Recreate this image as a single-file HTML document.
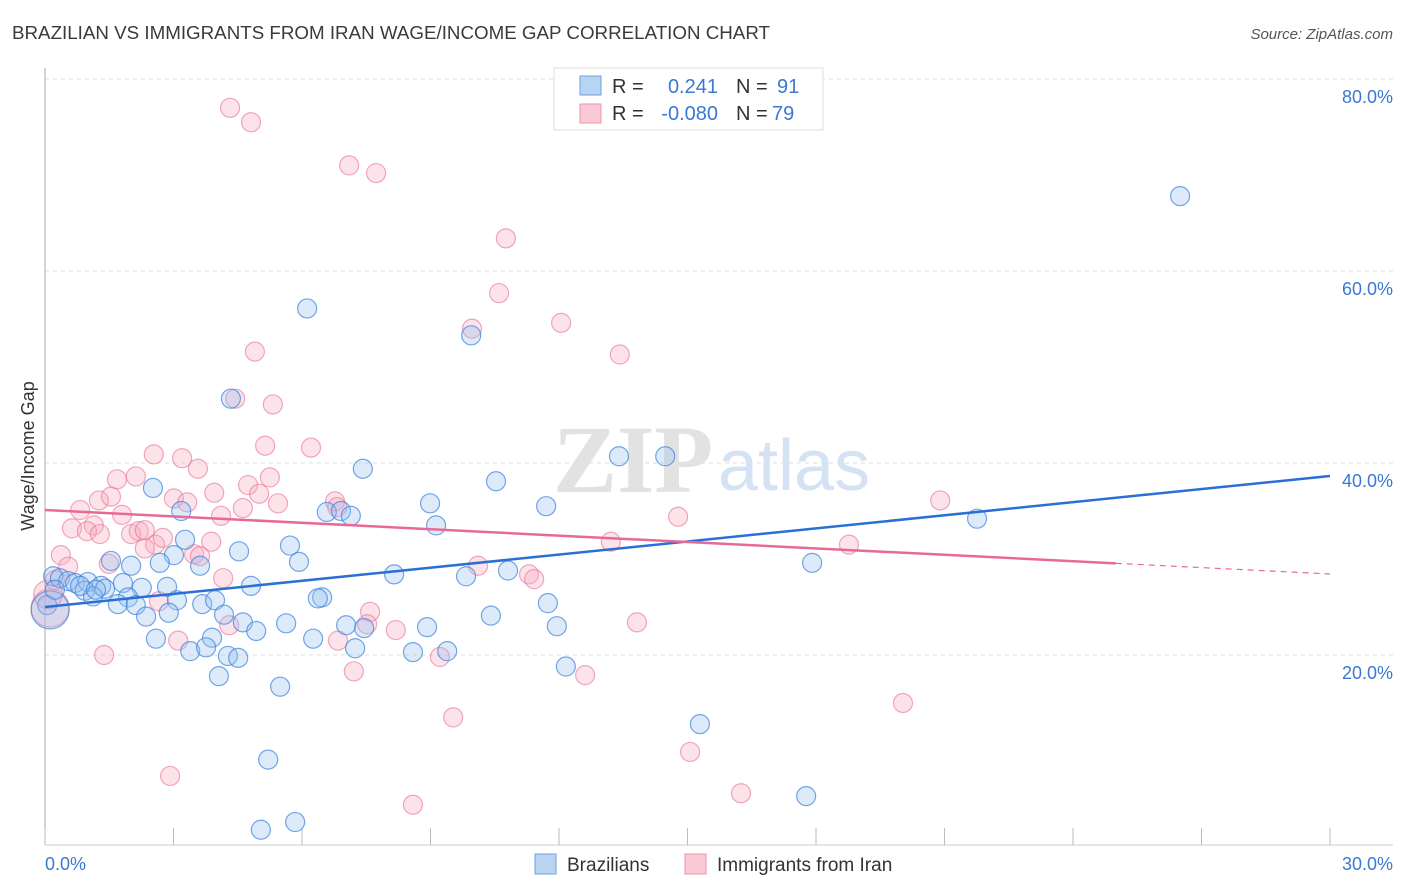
<!DOCTYPE html>
<html><head><meta charset="utf-8"><style>
body{margin:0;background:#fff;font-family:"Liberation Sans",sans-serif}
</style></head><body>
<svg width="1406" height="892" xmlns="http://www.w3.org/2000/svg" style="display:block">
<text x="12" y="39" font-size="18" textLength="758" lengthAdjust="spacingAndGlyphs" fill="#3a3a3a">BRAZILIAN VS IMMIGRANTS FROM IRAN WAGE/INCOME GAP CORRELATION CHART</text>
<text x="1393" y="39" font-size="15" fill="#555" font-style="italic" text-anchor="end">Source: ZipAtlas.com</text>
<g id="grid"></g>
<g>
<text x="553" y="492" font-size="96" font-family="Liberation Serif,serif" fill="#e2e2e2" font-weight="bold">ZIP</text>
<text x="718" y="490" font-size="72" fill="#d4e2f4">atlas</text>
</g>
<g id="marks"></g>
<text x="34" y="456" font-size="18" fill="#333" transform="rotate(-90 34 456)" text-anchor="middle">Wage/Income Gap</text>
<g>
<rect x="554" y="68" width="269" height="62" fill="#fff" stroke="#ddd"/>
<rect x="580" y="76" width="21" height="19" fill="#b9d3f3" stroke="#6fa0e0"/>
<rect x="580" y="104" width="21" height="19" fill="#f9c9d6" stroke="#ee92ae"/>
<text x="612" y="93" font-size="20" fill="#333">R = </text><text x="718" y="93" font-size="20" fill="#3a78d4" text-anchor="end">0.241</text>
<text x="736" y="93" font-size="20" fill="#333">N = </text><text x="777" y="93" font-size="20" fill="#3a78d4">91</text>
<text x="612" y="120" font-size="20" fill="#333">R = </text><text x="718" y="120" font-size="20" fill="#3a78d4" text-anchor="end">-0.080</text>
<text x="736" y="120" font-size="20" fill="#333">N = </text><text x="772" y="120" font-size="20" fill="#3a78d4">79</text>
</g>
<g>
<rect x="535" y="854" width="21" height="20" fill="#b9d3f3" stroke="#6fa0e0"/>
<text x="567" y="871" font-size="19" fill="#333">Brazilians</text>
<rect x="685" y="854" width="21" height="20" fill="#f9c9d6" stroke="#ee92ae"/>
<text x="717" y="871" font-size="19" fill="#333">Immigrants from Iran</text>
</g>
</svg>
<script>
const blueX=[26.50,6.12,9.95,4.34,7.42,13.40,14.48,10.53,8.99,11.70,2.52,3.18,6.58,6.91,7.14,9.13,21.76,5.72,4.53,3.27,3.01,2.68,1.54,2.01,3.62,5.93,17.91,8.15,9.83,10.81,0.19,0.35,0.54,0.70,1.00,1.31,1.82,2.26,2.85,4.81,1.40,0.93,1.12,1.94,1.70,2.12,3.08,3.67,3.97,6.47,6.37,11.74,0.05,2.36,2.89,4.18,4.62,4.93,5.63,7.03,7.45,8.92,10.41,11.95,2.59,3.90,6.26,3.39,3.76,7.24,8.59,9.39,4.27,4.51,4.06,12.16,5.49,15.29,5.21,17.77,5.04,5.84,0.12,0.23,0.82,1.19];
const blueY=[67.8,56.1,53.3,46.7,39.4,40.7,40.7,38.1,35.8,35.5,37.4,35.0,34.9,35.0,34.5,33.5,34.2,31.4,30.8,32.0,30.4,29.6,29.8,29.3,29.3,29.7,29.6,28.4,28.2,28.8,28.2,28.0,27.7,27.5,27.6,27.2,27.5,27.0,27.1,27.2,26.9,26.7,26.1,26.0,25.3,25.2,25.7,25.3,25.7,26.0,25.9,25.4,25.2,24.0,24.4,24.2,23.4,22.5,23.3,23.1,22.8,22.9,24.1,23.0,21.7,21.8,21.7,20.4,20.8,20.7,20.3,20.4,19.9,19.7,17.8,18.8,16.7,12.8,9.1,5.3,1.8,2.6,24.7,26.8,27.2,26.8];
const blueW=blueX.map((v,i)=>i===82?2:1);
const pinkX=[4.32,4.81,7.10,7.73,10.76,10.60,9.97,12.05,13.42,4.90,5.32,4.44,6.21,5.14,2.54,2.12,3.20,3.57,1.68,5.25,4.74,1.26,1.54,3.01,3.32,3.95,5.00,4.62,5.44,6.77,0.82,1.80,1.14,0.63,0.98,1.28,2.01,2.19,2.57,2.75,3.88,0.37,0.54,1.49,2.33,3.48,3.62,2.33,4.11,14.78,20.90,18.77,13.21,6.82,10.11,11.30,11.42,4.16,2.66,3.11,4.30,7.59,7.52,8.19,6.84,7.21,9.22,12.61,13.82,1.38,9.53,20.03,15.06,2.92,8.59,16.25,0.12,0.07,0.23];
const pinkY=[77.0,75.5,71.0,70.2,63.4,57.7,54.0,54.6,51.3,51.6,46.1,46.7,41.6,41.8,40.9,38.6,40.5,39.4,38.3,38.5,37.7,36.1,36.5,36.3,35.9,36.9,36.8,35.3,35.8,36.0,35.1,34.6,33.5,33.2,32.9,32.6,32.6,32.9,31.5,32.2,31.8,30.4,29.2,29.5,31.1,30.5,30.3,33.0,34.5,34.4,36.1,31.5,31.8,35.4,29.3,28.4,27.9,28.0,25.6,21.5,23.1,24.5,23.2,22.6,21.5,18.3,19.8,17.9,23.4,20.0,13.5,15.0,9.9,7.4,4.4,5.6,24.9,26.3,27.8];
const pinkW=pinkX.map((v,i)=>i===76?2:(i===77?1.5:1));
const blueFit=[25.0,38.65];
const pinkFit=[35.1,28.44];
const pinkFitEnd=25.0;
const yTicks=[20,40,60,80];
const xTickLabels=["0.0%","30.0%"];

const X0=45,X1=1330,Y0=847,PY=9.6;
const sx=v=>X0+(X1-X0)*v/30, sy=v=>Y0-v*PY;
const NS="http://www.w3.org/2000/svg";
function mk(tag,attrs,parent){const e=document.createElementNS(NS,tag);for(const k in attrs)e.setAttribute(k,attrs[k]);parent.appendChild(e);return e;}
const grid=document.getElementById('grid'), marks=document.getElementById('marks');
yTicks.forEach(t=>{
  const l=mk('line',{x1:X0,x2:1393,y1:sy(t),y2:sy(t),stroke:'#ddd','stroke-dasharray':'4,4'},grid);
  
  
  const tx=mk('text',{x:1393,y:sy(t)+24,'font-size':18,fill:'#3a78d4','text-anchor':'end'},grid);
  tx.textContent=t.toFixed(1)+'%';
  
  
});
const ax=mk('line',{x1:X0,x2:X0,y1:68,y2:845,stroke:'#aaa'},grid);


const bx=mk('line',{x1:X0,x2:1393,y1:845,y2:845,stroke:'#ccc'},grid);


for(let i=0;i<=10;i++){const t=mk('line',{x1:sx(i*3),x2:sx(i*3),y1:828,y2:845,stroke:'#bbb'},grid);
  
  }
const xl0=mk('text',{x:45,y:870,'font-size':18,fill:'#3a78d4'},grid);xl0.textContent=xTickLabels[0];


const xl1=mk('text',{x:1393,y:870,'font-size':18,fill:'#3a78d4','text-anchor':'end'},grid);xl1.textContent=xTickLabels[1];



pinkX.forEach((v,i)=>{const c=mk('circle',{cx:sx(v),cy:sy(pinkY[i]),r:9.5*pinkW[i],fill:'rgba(246,170,192,0.33)',stroke:'rgba(236,120,155,0.65)','stroke-width':1.2},marks);
  
  });
blueX.forEach((v,i)=>{const c=mk('circle',{cx:sx(v),cy:sy(blueY[i]),r:9.5*blueW[i],fill:'rgba(150,190,240,0.33)',stroke:'rgba(60,130,220,0.7)','stroke-width':1.2},marks);
  
  });
const bl=mk('line',{x1:sx(0),y1:sy(blueFit[0]),x2:sx(30),y2:sy(blueFit[1]),stroke:'#2a6fd6','stroke-width':2.5},marks);


const pe=pinkFit[0]+(pinkFit[1]-pinkFit[0])*pinkFitEnd/30;
const pl=mk('line',{x1:sx(0),y1:sy(pinkFit[0]),x2:sx(pinkFitEnd),y2:sy(pe),stroke:'#e86a94','stroke-width':2.5},marks);


const pd=mk('line',{x1:sx(pinkFitEnd),y1:sy(pe),x2:sx(30),y2:sy(pinkFit[1]),stroke:'#e86a94','stroke-width':1.2,'stroke-dasharray':'6,5'},marks);


</script>
</body></html>
